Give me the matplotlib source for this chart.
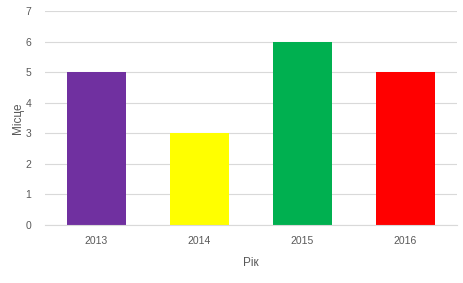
import matplotlib
matplotlib.use("Agg")
import matplotlib.pyplot as plt

years = ["2013", "2014", "2015", "2016"]
places = [5, 3, 6, 5]
colors = ["#7030A0", "#FFFF00", "#00B050", "#FF0000"]
y_ticks = [0, 1, 2, 3, 4, 5, 6, 7]

plt.rcParams["font.family"] = ["Liberation Sans", "DejaVu Sans"]
text_color = "#595959"

fig = plt.figure(figsize=(4.64, 2.83), dpi=100)
ax = fig.add_axes([0.097, 0.205, 0.888, 0.756])

x = range(len(years))
ax.bar(x, places, width=0.575, color=colors, zorder=2)

ax.set_xlim(-0.5, len(years) - 0.5)
ax.set_ylim(0, 7)
ax.set_yticks(y_ticks)
ax.set_xticks(list(x))
ax.set_xticklabels(years)
ax.yaxis.grid(True, color="#D9D9D9", linewidth=0.8, zorder=0)
ax.tick_params(axis="both", length=0, labelsize=7.5, colors=text_color)
ax.tick_params(axis="x", pad=8)
ax.tick_params(axis="y", pad=10)
for s in ["top", "right", "left"]:
    ax.spines[s].set_visible(False)
ax.spines["bottom"].set_color("#D9D9D9")
ax.spines["bottom"].set_linewidth(0.8)

ax.set_xlabel("Рік", fontsize=8.5, color=text_color, labelpad=8)
ax.set_ylabel("Місце", fontsize=8.5, color=text_color, labelpad=1)

fig.savefig("out.png", dpi=100)
